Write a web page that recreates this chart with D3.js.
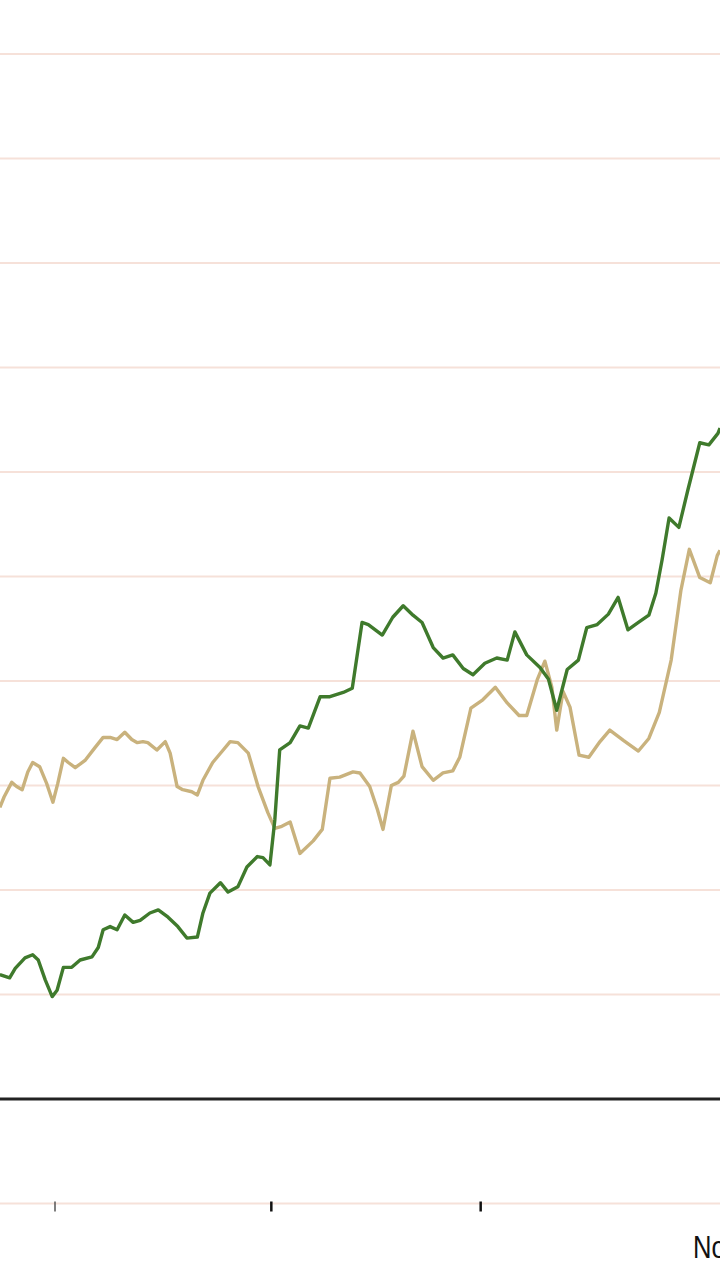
<!DOCTYPE html>
<html lang="en">
<head>
  <meta charset="UTF-8">
  <title>Chart</title>
  <script src="https://d3js.org/d3.v7.min.js"></script>
  <style>
    html, body {
      margin: 0;
      padding: 0;
      background: #fff;
    }

    #chart {
      width: 720px;
      height: 1280px;
      overflow: hidden;
    }

    .grid line {
      stroke: #f6e1d9;
      stroke-width: 2px;
    }

    .series {
      fill: none;
      stroke-width: 3.4px;
      stroke-linejoin: round;
    }

    .axis-label {
      font-family: "Liberation Sans Narrow", "Liberation Sans", sans-serif;
      font-size: 32px;
      fill: #111;
    }
  </style>
</head>
<body>
  <div id="chart"></div>

  <script>
    // days counted from the first month tick
    const greenDays = [-7.9, -6.5, -5.7, -4.3, -3.2, -2.4, -1.4, -0.4, 0.3, 1.2, 2.4, 3.6, 5.3, 6.2, 6.9, 7.9, 8.9, 10.0, 11.2, 12.2, 13.6, 14.8, 16.2, 17.6, 18.9, 20.4, 21.2, 22.2, 23.7, 24.8, 26.2, 27.5, 29.0, 29.8, 30.8, 31.5, 32.2, 33.7, 35.1, 36.3, 38.0, 39.4, 41.3, 42.6, 44.0, 44.9, 46.9, 48.4, 49.9, 51.3, 52.6, 54.2, 55.6, 57.0, 58.5, 59.9, 61.6, 63.3, 64.8, 65.9, 67.6, 69.5, 70.7, 71.9, 73.4, 75.0, 76.2, 77.7, 79.3, 80.7, 82.1, 83.6, 85.1, 86.1, 87.0, 88.0, 89.4, 90.7, 92.4, 93.7, 95.0, 95.3];
    const greenValues = [11.9, 11.6, 12.5, 13.5, 13.8, 13.3, 11.4, 9.8, 10.4, 12.6, 12.6, 13.3, 13.6, 14.5, 16.2, 16.5, 16.2, 17.6, 16.9, 17.1, 17.8, 18.1, 17.4, 16.5, 15.4, 15.5, 17.8, 19.7, 20.7, 19.8, 20.3, 22.2, 23.2, 23.1, 22.4, 26.7, 33.4, 34.1, 35.7, 35.5, 38.5, 38.5, 38.9, 39.3, 45.6, 45.4, 44.4, 46.1, 47.2, 46.3, 45.6, 43.2, 42.2, 42.5, 41.2, 40.6, 41.7, 42.2, 42.0, 44.7, 42.5, 41.3, 40.2, 37.2, 41.1, 42.0, 45.1, 45.4, 46.4, 48.0, 44.9, 45.6, 46.3, 48.4, 51.6, 55.6, 54.7, 58.3, 62.8, 62.6, 63.7, 64.2];

    const tanDays = [-7.9, -7.3, -6.2, -5.5, -4.7, -3.9, -3.2, -2.2, -1.2, -0.3, 0.4, 1.2, 1.9, 2.9, 4.3, 5.7, 6.9, 7.9, 8.9, 10.0, 11.0, 11.8, 12.6, 13.3, 14.6, 15.8, 16.5, 17.5, 18.3, 19.6, 20.4, 21.2, 22.6, 24.1, 25.1, 26.2, 27.7, 29.1, 30.5, 31.5, 32.5, 33.7, 35.1, 37.0, 38.3, 39.4, 40.8, 42.7, 43.7, 45.1, 46.2, 47.0, 48.2, 49.2, 50.0, 51.3, 52.6, 54.2, 55.6, 57.0, 58.0, 59.6, 61.3, 63.1, 64.8, 66.5, 67.6, 69.1, 70.2, 71.2, 71.9, 72.8, 73.8, 75.1, 76.5, 78.1, 79.5, 81.5, 83.6, 85.1, 86.6, 88.3, 89.7, 90.9, 92.4, 93.9, 94.9, 95.3];
    const tanValues = [27.9, 28.9, 30.3, 29.9, 29.6, 31.3, 32.2, 31.8, 30.2, 28.4, 30.2, 32.6, 32.2, 31.7, 32.4, 33.6, 34.6, 34.6, 34.4, 35.1, 34.4, 34.1, 34.2, 34.1, 33.4, 34.2, 33.1, 29.9, 29.6, 29.4, 29.1, 30.5, 32.2, 33.4, 34.2, 34.1, 33.1, 29.9, 27.4, 25.9, 26.1, 26.5, 23.5, 24.7, 25.8, 30.7, 30.8, 31.3, 31.2, 29.9, 27.7, 25.8, 30.0, 30.3, 30.9, 35.2, 31.8, 30.5, 31.2, 31.4, 32.7, 37.4, 38.2, 39.4, 37.9, 36.7, 36.7, 40.1, 41.9, 39.4, 35.3, 39.0, 37.5, 32.9, 32.7, 34.2, 35.3, 34.3, 33.3, 34.5, 37.0, 42.0, 48.7, 52.6, 49.9, 49.4, 52.0, 52.5];

    const gridValues = [-10, 10, 20, 30, 40, 50, 60, 70, 80, 90, 100];
    const tickDays = [0, 31, 61];
    const labelDays = [92];
    const labelTexts = ["Nov"];

    const width = 720;
    const height = 1280;

    const x = d3.scaleLinear()
      .domain([0, 92])
      .range([55, 697]);

    const y = d3.scaleLinear()
      .domain([0, 100])
      .range([1099, 54]);

    const svg = d3.select("#chart")
      .append("svg")
      .attr("width", width)
      .attr("height", height);

    // gridlines
    svg.append("g")
      .attr("class", "grid")
      .selectAll("line")
      .data(gridValues)
      .enter()
      .append("line")
      .attr("x1", 0)
      .attr("x2", width)
      .attr("y1", d => y(d))
      .attr("y2", d => y(d));

    // zero line
    svg.append("line")
      .attr("x1", 0)
      .attr("x2", width)
      .attr("y1", y(0))
      .attr("y2", y(0))
      .attr("stroke", "#222")
      .attr("stroke-width", 3);

    // month ticks
    svg.append("g")
      .selectAll("line")
      .data(tickDays)
      .enter()
      .append("line")
      .attr("x1", d => x(d))
      .attr("x2", d => x(d))
      .attr("y1", y(-10) - 2)
      .attr("y2", y(-10) + 8)
      .attr("stroke", (d, i) => i === 0 ? "#555" : "#111")
      .attr("stroke-width", (d, i) => i === 0 ? 1.5 : 2.5);

    // month label, narrowed to match the condensed face
    svg.append("g")
      .selectAll("text")
      .data(labelDays)
      .enter()
      .append("text")
      .attr("class", "axis-label")
      .attr("transform", d => `translate(${x(d) - 4},${y(-10) + 54}) scale(0.8,1)`)
      .text((d, i) => labelTexts[i]);

    const line = d3.line()
      .x(d => x(d[0]))
      .y(d => y(d[1]));

    // tan line
    svg.append("path")
      .attr("class", "series")
      .attr("stroke", "#c9b27d")
      .attr("d", line(d3.zip(tanDays, tanValues)));

    // green line
    svg.append("path")
      .attr("class", "series")
      .attr("stroke", "#3f7a2c")
      .attr("d", line(d3.zip(greenDays, greenValues)));
  </script>
</body>
</html>
